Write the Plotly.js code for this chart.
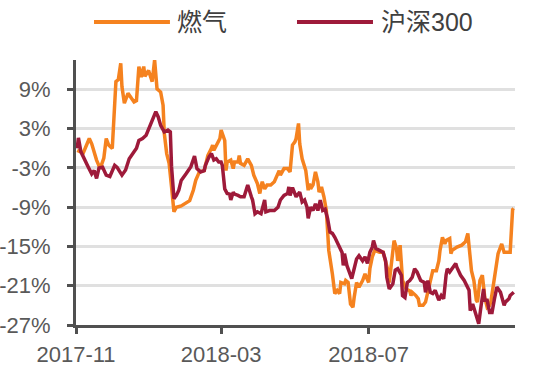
<!DOCTYPE html>
<html>
<head>
<meta charset="utf-8">
<script src="https://cdn.plot.ly/plotly-3.0.1.min.js"></script>
<style>html,body{margin:0;padding:0;background:#fff;}#chart{width:553px;height:384px;}</style>
</head>
<body>
<div id="chart"></div>
<script>
// 燃气 (gas) series
var gasDates = ["2017-11-02","2017-11-07","2017-11-12","2017-11-14","2017-11-18","2017-11-21","2017-11-24","2017-11-26","2017-11-28","2017-12-01",
"2017-12-04","2017-12-06","2017-12-08","2017-12-09","2017-12-11","2017-12-14","2017-12-17","2017-12-19","2017-12-21","2017-12-23",
"2017-12-25","2017-12-27","2017-12-28","2017-12-31","2018-01-03","2018-01-05","2018-01-07","2018-01-10","2018-01-12","2018-01-13",
"2018-01-15","2018-01-17","2018-01-19","2018-01-21","2018-01-23","2018-01-27","2018-02-03","2018-02-06","2018-02-08","2018-02-11",
"2018-02-15","2018-02-17","2018-02-18","2018-02-21","2018-02-22","2018-02-23","2018-02-26","2018-02-28","2018-03-01","2018-03-04",
"2018-03-05","2018-03-06","2018-03-09","2018-03-11","2018-03-12","2018-03-15","2018-03-16","2018-03-17","2018-03-20","2018-03-23",
"2018-03-26","2018-03-28","2018-03-31","2018-04-02","2018-04-03","2018-04-04","2018-04-06","2018-04-08","2018-04-11","2018-04-14",
"2018-04-18","2018-04-19","2018-04-22","2018-04-25","2018-04-27","2018-04-28","2018-04-29","2018-05-01","2018-05-02","2018-05-04",
"2018-05-05","2018-05-07","2018-05-09","2018-05-10","2018-05-12","2018-05-13","2018-05-14","2018-05-16","2018-05-18","2018-05-20",
"2018-05-21","2018-05-23","2018-05-25","2018-05-27","2018-05-28","2018-05-29","2018-06-01","2018-06-03","2018-06-05","2018-06-07",
"2018-06-08","2018-06-11","2018-06-12","2018-06-14","2018-06-16","2018-06-18","2018-06-19","2018-06-21","2018-06-23","2018-06-26",
"2018-06-28","2018-07-01","2018-07-02","2018-07-04","2018-07-06","2018-07-10","2018-07-13","2018-07-14","2018-07-17","2018-07-18",
"2018-07-20","2018-07-22","2018-07-24","2018-07-25","2018-07-27","2018-07-29","2018-08-01","2018-08-04","2018-08-05","2018-08-06",
"2018-08-09","2018-08-11","2018-08-12","2018-08-15","2018-08-17","2018-08-19","2018-08-20","2018-08-22","2018-08-23","2018-08-26",
"2018-08-28","2018-08-29","2018-08-31","2018-09-02","2018-09-03","2018-09-06","2018-09-07","2018-09-08","2018-09-12","2018-09-16",
"2018-09-19","2018-09-21","2018-09-22","2018-09-24","2018-09-26","2018-09-28","2018-09-29","2018-10-01","2018-10-03","2018-10-05",
"2018-10-07","2018-10-09","2018-10-10","2018-10-12","2018-10-14","2018-10-16","2018-10-19","2018-10-21","2018-10-23","2018-10-26",
"2018-10-28","2018-10-29"];
var gasValues = [-0.3,-0.7,1.5,0.7,-1.8,-3.1,-1.5,1.5,0.5,0.0,
10.2,10.5,13.0,9.4,6.9,8.4,7.6,7.1,7.3,12.5,
10.9,12.5,11.0,11.9,10.2,13.5,9.1,8.6,6.6,2.3,
-0.8,-2.3,-5.9,-9.7,-9.0,-8.8,-8.0,-6.4,-4.9,-3.6,
-3.4,-1.8,-1.1,0.0,0.5,-0.3,0.7,1.5,2.8,1.2,
-3.4,-2.1,-1.8,-3.1,-2.1,-2.1,-1.1,-2.3,-2.6,-1.6,
-2.6,-4.1,-5.4,-6.9,-5.9,-5.1,-6.2,-5.6,-5.6,-5.1,
-3.4,-4.1,-3.1,-3.1,-3.6,-1.8,0.5,1.0,1.5,3.8,
0.7,-1.6,-2.6,-3.4,-6.4,-5.4,-6.2,-5.6,-3.6,-5.1,
-6.7,-5.9,-7.4,-9.5,-12.5,-15.6,-19.2,-22.2,-21.7,-22.2,
-20.5,-20.7,-20.2,-20.5,-23.8,-24.3,-22.8,-20.5,-21.2,-20.2,
-19.2,-20.5,-18.4,-16.6,-15.6,-15.9,-15.9,-16.6,-18.7,-20.5,
-17.2,-14.1,-15.3,-17.2,-14.8,-20.2,-21.5,-21.8,-22.5,-22.0,
-22.5,-23.0,-24.0,-24.0,-23.5,-22.0,-20.7,-19.2,-18.7,-18.7,
-17.2,-15.6,-13.6,-14.6,-14.1,-13.8,-16.1,-15.6,-15.1,-14.8,
-14.3,-13.0,-15.1,-18.7,-20.2,-23.2,-23.5,-20.2,-19.4,-22.8,
-24.3,-24.0,-23.5,-21.2,-18.2,-16.1,-14.6,-15.9,-15.9,-15.9,
-9.4,-9.2];

// 沪深300 (CSI 300) series
var csiDates = ["2017-11-02","2017-11-03","2017-11-05","2017-11-08","2017-11-11","2017-11-14","2017-11-16","2017-11-18","2017-11-20","2017-11-23",
"2017-11-26","2017-11-29","2017-12-03","2017-12-05","2017-12-09","2017-12-12","2017-12-15","2017-12-18","2017-12-21","2017-12-23",
"2017-12-26","2017-12-29","2018-01-01","2018-01-04","2018-01-06","2018-01-08","2018-01-10","2018-01-13","2018-01-16","2018-01-18",
"2018-01-19","2018-01-21","2018-01-23","2018-01-25","2018-01-27","2018-01-31","2018-02-04","2018-02-07","2018-02-09","2018-02-12",
"2018-02-15","2018-02-16","2018-02-19","2018-02-21","2018-02-23","2018-02-25","2018-02-27","2018-03-01","2018-03-02","2018-03-04",
"2018-03-06","2018-03-08","2018-03-09","2018-03-11","2018-03-12","2018-03-15","2018-03-17","2018-03-20","2018-03-23","2018-03-26",
"2018-03-27","2018-03-29","2018-03-31","2018-04-03","2018-04-06","2018-04-07","2018-04-10","2018-04-14","2018-04-17","2018-04-19",
"2018-04-22","2018-04-25","2018-04-26","2018-04-27","2018-04-29","2018-05-02","2018-05-05","2018-05-07","2018-05-09","2018-05-11",
"2018-05-12","2018-05-14","2018-05-16","2018-05-18","2018-05-20","2018-05-22","2018-05-24","2018-05-26","2018-05-28","2018-05-30",
"2018-06-01","2018-06-03","2018-06-05","2018-06-07","2018-06-09","2018-06-10","2018-06-11","2018-06-13","2018-06-15","2018-06-17",
"2018-06-19","2018-06-21","2018-06-23","2018-06-26","2018-06-28","2018-06-30","2018-07-02","2018-07-04","2018-07-05","2018-07-07",
"2018-07-10","2018-07-13","2018-07-15","2018-07-16","2018-07-18","2018-07-21","2018-07-23","2018-07-25","2018-07-28","2018-07-29",
"2018-07-31","2018-08-02","2018-08-04","2018-08-06","2018-08-08","2018-08-10","2018-08-13","2018-08-16","2018-08-17","2018-08-19",
"2018-08-21","2018-08-23","2018-08-25","2018-08-28","2018-08-30","2018-09-01","2018-09-03","2018-09-04","2018-09-06","2018-09-08",
"2018-09-11","2018-09-12","2018-09-15","2018-09-18","2018-09-21","2018-09-22","2018-09-23","2018-09-25","2018-09-28","2018-09-30",
"2018-10-02","2018-10-04","2018-10-05","2018-10-07","2018-10-09","2018-10-11","2018-10-13","2018-10-15","2018-10-18","2018-10-21",
"2018-10-22","2018-10-25","2018-10-26","2018-10-29"];
var csiValues = [0.0,1.6,-0.5,-1.8,-2.8,-3.9,-3.4,-4.6,-3.0,-2.9,
-4.1,-4.3,-2.6,-2.9,-4.1,-3.3,-1.6,-0.8,0.0,1.2,
1.5,2.0,3.3,4.6,5.6,4.8,3.5,2.5,2.8,2.5,
-2.8,-7.7,-7.2,-6.4,-4.9,-3.9,-2.8,-1.2,-3.1,-3.6,
-3.4,-2.6,-1.3,-0.8,-1.8,-1.6,-2.1,-2.1,-2.6,-6.2,
-6.9,-7.0,-7.9,-6.7,-7.0,-7.2,-7.4,-7.4,-5.6,-7.4,
-7.9,-10.0,-9.7,-10.0,-7.9,-9.7,-9.5,-9.5,-9.0,-7.9,
-7.2,-6.9,-5.9,-7.2,-6.0,-7.4,-6.7,-8.2,-7.9,-9.0,
-10.7,-9.0,-9.5,-8.5,-9.5,-7.9,-9.5,-9.3,-10.7,-12.8,
-13.0,-13.6,-14.3,-15.1,-15.9,-17.9,-16.1,-17.9,-18.9,-19.9,
-18.4,-16.9,-16.4,-17.2,-16.6,-17.6,-15.9,-15.1,-14.1,-15.3,
-15.6,-15.9,-17.2,-19.7,-21.5,-20.7,-18.6,-18.4,-19.4,-22.5,
-22.8,-20.5,-20.2,-19.7,-18.4,-18.9,-20.2,-20.5,-22.0,-20.2,
-22.0,-22.2,-21.7,-23.2,-22.5,-23.0,-19.4,-18.4,-18.9,-18.4,
-17.6,-18.2,-19.4,-20.2,-21.2,-21.7,-24.8,-23.8,-25.6,-26.8,
-24.0,-21.5,-23.2,-23.2,-25.1,-25.1,-23.0,-21.2,-22.0,-24.0,
-23.5,-23.0,-22.5,-22.0];

var yTickVals = [-27, -21, -15, -9, -3, 3, 9];
var yTickText = ["-27%", "-21%", "-15%", "-9%", "-3%", "3%", "9%"];
var xTickVals = ["2017-11-01", "2018-03-01", "2018-07-01"];
var xTickText = ["2017-11", "2018-03", "2018-07"];
var seriesNames = ["燃气", "沪深300"];
var seriesColors = ["#F5821F", "#9E1A3A"];

var traces = [
  {x: gasDates, y: gasValues, type: "scatter", mode: "lines", name: seriesNames[0],
   line: {color: seriesColors[0], width: 3.5}},
  {x: csiDates, y: csiValues, type: "scatter", mode: "lines", name: seriesNames[1],
   line: {color: seriesColors[1], width: 3.5}}
];

var axisColor = "#505050";
var tickFont = {family: "Liberation Sans, Arial, sans-serif", size: 22, color: "#595959"};
var legendFont = {family: "Liberation Sans, Noto Sans CJK SC, sans-serif", size: 25, color: "#404040"};

var layout = {
  width: 553, height: 384,
  margin: {l: 76, r: 38, t: 60, b: 59},
  paper_bgcolor: "#ffffff", plot_bgcolor: "#ffffff",
  showlegend: false,
  xaxis: {
    type: "date",
    range: ["2017-11-01", "2018-10-30"],
    tickvals: xTickVals, ticktext: xTickText,
    showgrid: false, zeroline: false,
    showline: true, linecolor: axisColor, linewidth: 3,
    ticks: "outside", ticklen: 6, tickwidth: 3, tickcolor: axisColor,
    tickfont: tickFont, ticklabelstandoff: 2
  },
  yaxis: {
    range: [-27, 13.5],
    tickvals: yTickVals, ticktext: yTickText,
    showgrid: true, gridcolor: "#E0E0E0", gridwidth: 3,
    zeroline: false,
    showline: true, linecolor: axisColor, linewidth: 3,
    ticks: "outside", ticklen: 6, tickwidth: 3, tickcolor: axisColor,
    tickfont: tickFont, ticklabelstandoff: 12
  },
  shapes: [
    {type: "line", xref: "paper", yref: "paper", x0: 0.041, x1: 0.214, y0: 1.143, y1: 1.143,
     line: {color: seriesColors[0], width: 4}},
    {type: "line", xref: "paper", yref: "paper", x0: 0.5034, x1: 0.6765, y0: 1.143, y1: 1.143,
     line: {color: seriesColors[1], width: 4}}
  ],
  annotations: [
    {xref: "paper", yref: "paper", x: 0.226, y: 1.143, xanchor: "left", yanchor: "middle",
     text: seriesNames[0], showarrow: false, font: legendFont},
    {xref: "paper", yref: "paper", x: 0.690, y: 1.143, xanchor: "left", yanchor: "middle",
     text: seriesNames[1], showarrow: false, font: legendFont}
  ]
};

Plotly.newPlot("chart", traces, layout, {staticPlot: true, displayModeBar: false});
</script>
</body>
</html>
